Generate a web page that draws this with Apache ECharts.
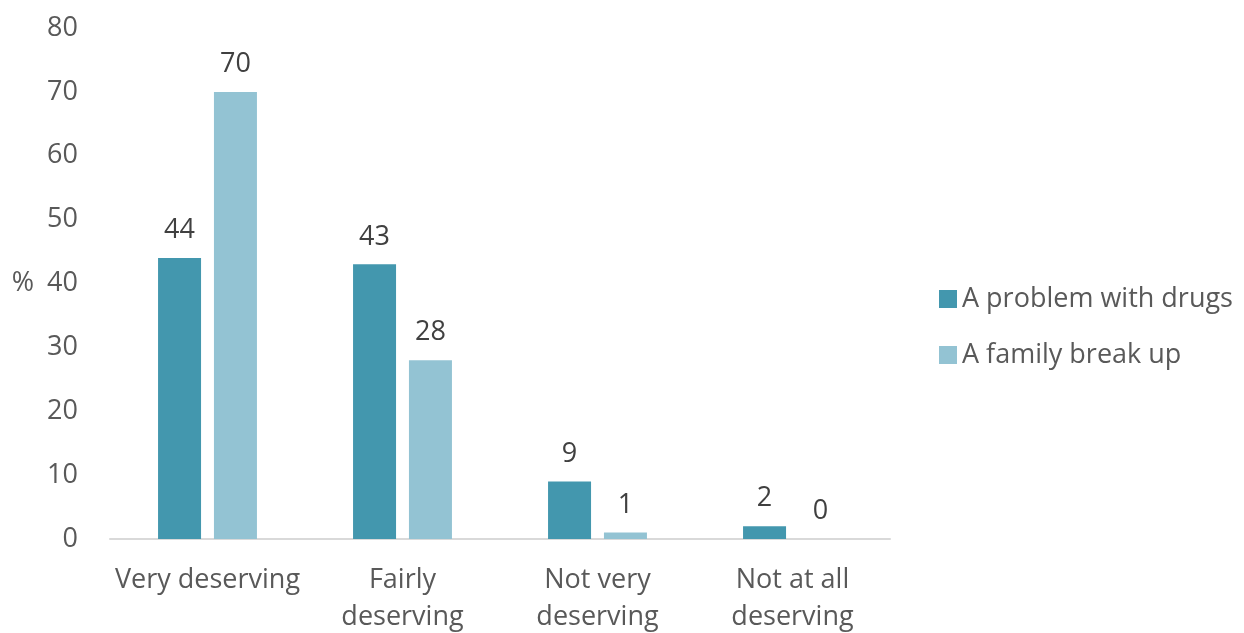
<!DOCTYPE html>
<html>
<head>
<meta charset="utf-8">
<script src="https://cdn.jsdelivr.net/npm/echarts@6/dist/echarts.min.js"></script>
<style>
    html, body { margin: 0; padding: 0; background: #fff; }
    #chart { width: 1244px; height: 633px; }
</style>
</head>
<body>
<div id="chart"></div>
<script>
// Chart data
const categories = ['Very deserving', 'Fairly\ndeserving', 'Not very\ndeserving', 'Not at all\ndeserving'];
const drugsValues = [44, 43, 9, 2];
const familyValues = [70, 28, 1, 0];
const seriesNames = ['A problem with drugs', 'A family break up'];

const FONT = 'Open Sans';
const FS = 27;

const myChart = echarts.init(document.getElementById('chart'));

const option = {
    animation: false,
    textStyle: { fontFamily: FONT },
    grid: {
        left: 110,
        right: 354,
        top: 28,
        bottom: 94,
        outerBoundsMode: 'none'
    },
    legend: {
        orient: 'vertical',
        left: 934,
        top: 279,
        itemWidth: 18,
        itemHeight: 18,
        itemGap: 26,
        icon: 'rect',
        textStyle: { fontSize: FS, lineHeight: 30, color: '#595959', fontFamily: FONT },
        data: seriesNames
    },
    xAxis: {
        type: 'category',
        data: categories,
        axisLine: { lineStyle: { color: '#d9d9d9', width: 2 } },
        axisTick: { show: false },
        axisLabel: {
            fontSize: FS,
            color: '#595959',
            margin: 23,
            lineHeight: 37,
            interval: 0
        }
    },
    yAxis: {
        type: 'value',
        min: 0,
        max: 80,
        interval: 10,
        name: '%',
        nameLocation: 'middle',
        nameRotate: 0,
        nameGap: 76,
        nameTextStyle: { fontSize: FS, color: '#595959' },
        splitLine: { show: false },
        axisLine: { show: false },
        axisTick: { show: false },
        axisLabel: { fontSize: FS, color: '#595959', margin: 32 }
    },
    series: [
        {
            name: seriesNames[0],
            type: 'bar',
            data: drugsValues,
            barWidth: 43,
            barGap: '30%',
            itemStyle: { color: '#4397ae' },
            label: { show: true, position: 'top', distance: 14, fontSize: FS, color: '#404040' }
        },
        {
            name: seriesNames[1],
            type: 'bar',
            data: familyValues,
            barWidth: 43,
            barGap: '30%',
            itemStyle: { color: '#93c3d3' },
            label: { show: true, position: 'top', distance: 14, fontSize: FS, color: '#404040' }
        }
    ]
};

myChart.setOption(option);
</script>
</body>
</html>
